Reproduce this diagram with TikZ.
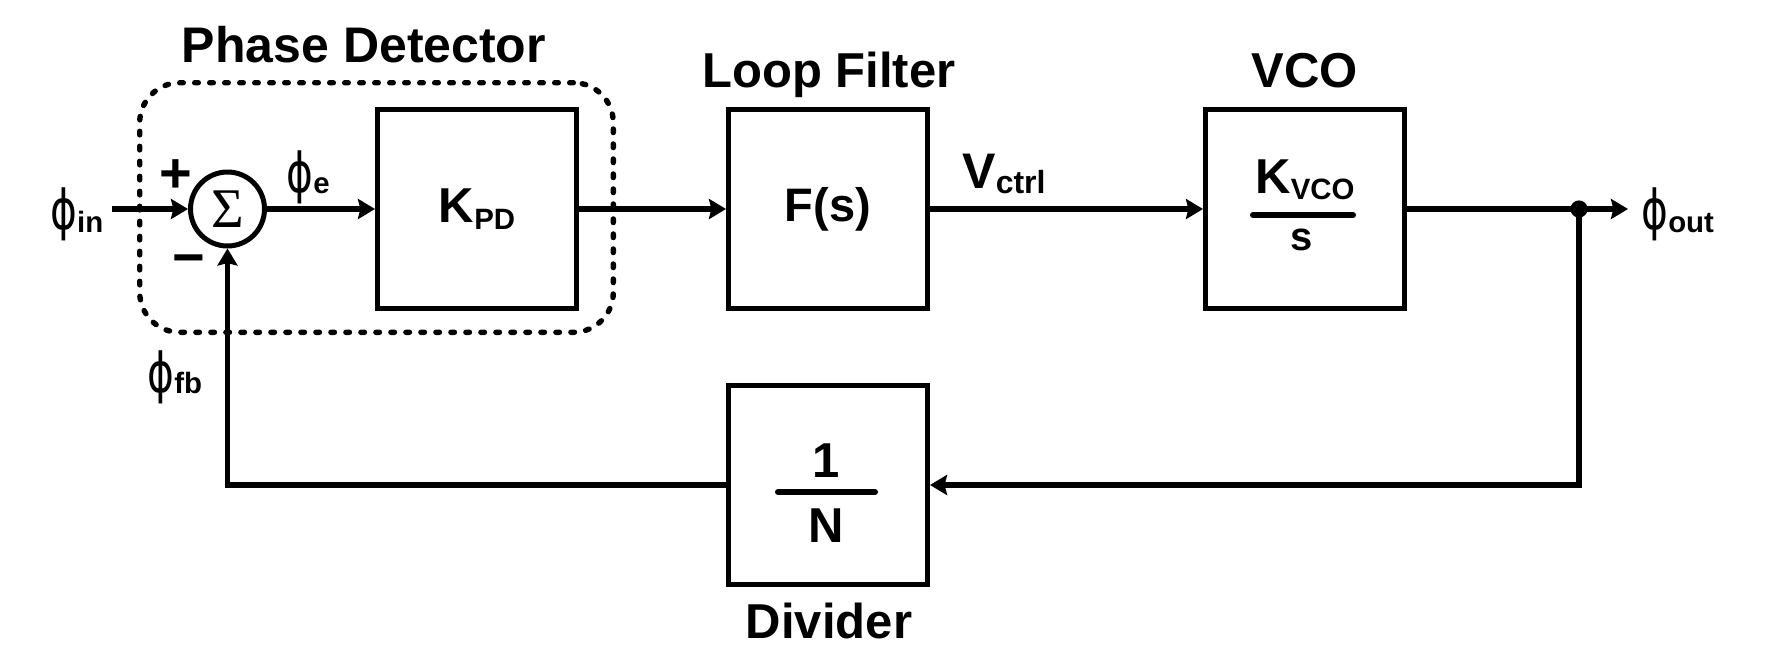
\documentclass[tikz,border=0pt]{standalone}
\usepackage{fontspec}
\setmainfont{Liberation Sans}
\newfontfamily\serfont{Liberation Serif}
\newfontfamily\phifont{DejaVu Sans}
\usetikzlibrary{arrows.meta}
\newcommand\ph{\scalebox{0.74}[1]{\phifont\fontsize{27.5}{27.5}\selectfont ϕ}}
\newcommand\subs[2][3.5pt]{\raisebox{-#1}{\fontsize{14.7}{14.7}\selectfont\bfseries #2}}
\begin{document}
\begin{tikzpicture}[x=0.5pt,y=-0.5pt,
  wire/.style={line width=2.7pt},
  arr/.style={wire,-{Stealth[length=8.5pt,width=10pt,inset=1.2pt]}},
  blk/.style={draw,line width=2.7pt,minimum width=99.3pt,minimum height=99.3pt,inner sep=0pt,
    font=\fontsize{24.5}{24.5}\selectfont\bfseries},
  sumnode/.style={draw,circle,line width=2.5pt,minimum size=37pt,inner sep=0pt},
  txt/.style={inner sep=0pt,font=\fontsize{24.5}{24.5}\selectfont\bfseries},
  sig/.style={inner sep=0pt,anchor=base west},
  fracbar/.style={line width=3pt,line cap=round},
  dashbox/.style={draw,line width=2.7pt,dash pattern=on 1.8pt off 5.7pt,line cap=round,
    rounded corners=20pt,minimum width=236.8pt,minimum height=124.8pt,inner sep=0pt}]
\useasboundingbox (0,0) rectangle (1788,665);

% group outline
\node[dashbox] (pd) at (376.5,207.5) {};

% titles
\node[txt,anchor=base,font=\fontsize{25}{25}\selectfont\bfseries] (tpd) at (364,62) {Phase Detector};
\node[txt,anchor=base] (tlf) at (829,87) {Loop Filter};
\node[txt,anchor=base] (tvco) at (1305,87) {VCO};
\node[txt,anchor=base] (tdiv) at (829,638) {Divider};

% blocks
\node[sumnode] (sum) at (227.5,209) {\serfont\fontsize{28}{28}\selectfont Σ};
\node[blk] (kpd) at (477,209) {K\subs{PD}};
\node[blk] (lf) at (828,209) {\fontsize{23.5}{23.5}\selectfont F(s)};
\node[blk] (vco) at (1305,209) {};
\node[blk] (div) at (828,485) {};

% VCO fraction
\node[txt,anchor=base] (kvco) at (1305,193) {K\subs[3pt]{VCO}};
\draw[fracbar] (1253,215) -- (1353,215);
\node[txt,anchor=base,font=\fontsize{20}{20}\selectfont\bfseries] (svco) at (1302,250) {s};

% divider fraction
\node[txt,anchor=base] (one) at (826,477) {1};
\draw[fracbar] (778,492) -- (875,492);
\node[txt,anchor=base] (nn) at (826,542) {N};

% signs
\node[txt,anchor=base,font=\fontsize{28}{28}\selectfont\bfseries] (plus) at (176,192) {+};
\node[txt,anchor=base,font=\fontsize{28}{28}\selectfont\bfseries] (minus) at (189,276.5) {−};

% signal labels
\node[sig] (lin) at (50,229) {\ph\subs[1.5pt]{in}};
\node[sig] (le) at (286,192) {\ph\subs[0.5pt]{e}};
\node[sig] (lfb) at (147,392) {\ph\subs[0.5pt]{fb}};
\node[sig] (lout) at (1641,229) {\ph\subs[1.5pt]{out}};
\node[sig,font=\fontsize{25}{25}\selectfont\bfseries] (lv) at (962,188) {V\raisebox{-2.5pt}{\fontsize{16}{16}\selectfont ctrl}};

% connectors
\coordinate (in) at (112,209);
\coordinate (j) at (1579,209);
\coordinate (out) at (1628,209);
\draw[arr] (in) -- (sum.west);
\draw[arr] (sum.east) -- (kpd.west);
\draw[arr] (kpd.east) -- (lf.west);
\draw[arr] (lf.east) -- (vco.west);
\draw[wire] (vco.east) -- (j);
\draw[arr] (j) -- (out);
\draw[arr] (j) |- (div.east);
\draw[arr] (div.west) -| (sum.south);
\fill (j) circle[radius=4.3pt];
\end{tikzpicture}
\end{document}
